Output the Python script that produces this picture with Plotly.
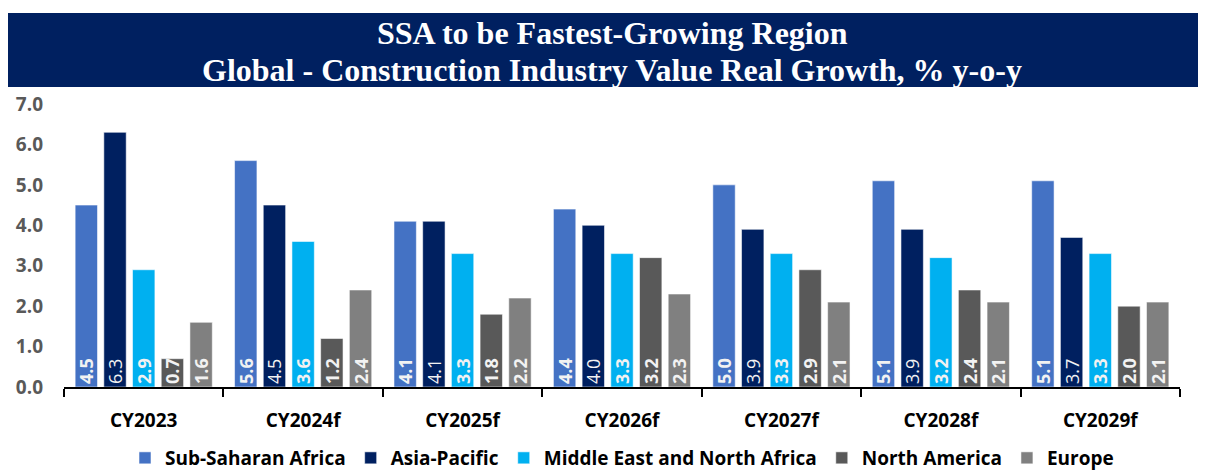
import plotly.graph_objects as go

categories = ["CY2023", "CY2024f", "CY2025f", "CY2026f", "CY2027f", "CY2028f", "CY2029f"]
series_names = ["Sub-Saharan Africa", "Asia-Pacific", "Middle East and North Africa", "North America", "Europe"]
ssa = [4.5, 5.6, 4.1, 4.4, 5.0, 5.1, 5.1]
apac = [6.3, 4.5, 4.1, 4.0, 3.9, 3.9, 3.7]
mena = [2.9, 3.6, 3.3, 3.3, 3.3, 3.2, 3.3]
north_america = [0.7, 1.2, 1.8, 3.2, 2.9, 2.4, 2.0]
europe = [1.6, 2.4, 2.2, 2.3, 2.1, 2.1, 2.1]
y_ticks = [0, 1, 2, 3, 4, 5, 6, 7]
title_lines = ["SSA to be Fastest-Growing Region", "Global - Construction Industry Value Real Growth, % y-o-y"]

colors = ["#4472C4", "#002060", "#00B0F0", "#595959", "#808080"]
label_weights = ["bold", "normal", "bold", "bold", "bold"]
all_series = [ssa, apac, mena, north_america, europe]

# page body has an 8px margin, so figure pixel = screen pixel - 8
OFF = 8
W, H = 1206 - OFF, 470 - OFF
ML, MR, MT, MB = 64 - OFF, 1206 - 1180, 104 - OFF, 470 - 387
pw = W - ML - MR
ph = H - MT - MB
base = H - MB


def py(screen_y):
    return (base - (screen_y - OFF)) / ph


def px(screen_x):
    return ((screen_x - OFF) - ML) / pw


fig = go.Figure()
for name, vals, col, wt in zip(series_names, all_series, colors, label_weights):
    fig.add_trace(go.Bar(
        name=name, x=categories, y=vals,
        marker=dict(color=col, line=dict(color="rgba(255,255,255,0.55)", width=1)),
        text=[f"{v:.1f}" for v in vals],
        textposition="inside", insidetextanchor="start", textangle=-90,
        constraintext="none",
        textfont=dict(color="#F2F2F2", size=18, family="Open Sans", weight=wt),
        cliponaxis=False,
    ))

# title banner
fig.add_shape(type="rect", xref="paper", yref="paper",
              x0=px(0), x1=px(1210),
              y0=py(87), y1=py(13),
              fillcolor="#002060", line=dict(width=0), layer="below")
fig.add_annotation(xref="paper", yref="paper", x=px(612), y=py(33),
                   text=title_lines[0], showarrow=False, yanchor="middle",
                   font=dict(family="Liberation Serif", size=32, color="white", weight="bold"))
fig.add_annotation(xref="paper", yref="paper", x=px(612), y=py(70),
                   text=title_lines[1], showarrow=False, yanchor="middle",
                   font=dict(family="Liberation Serif", size=32, color="white", weight="bold"))

fig.update_layout(
    width=W, height=H,
    margin=dict(l=ML, r=MR, t=MT, b=MB, autoexpand=False),
    paper_bgcolor="white", plot_bgcolor="white",
    barmode="group", bargap=0.1, bargroupgap=0.22,
    uniformtext=dict(minsize=18, mode="show"),
    showlegend=True,
    legend=dict(orientation="h", x=0.5, xanchor="center", y=py(458), yanchor="middle",
                font=dict(family="Open Sans", size=19, color="#000000", weight="bold"),
                itemwidth=30, tracegroupgap=0),
    xaxis=dict(showline=True, linecolor="#000000", linewidth=1.5, ticks="outside", tickson="boundaries",
               ticklen=8, tickcolor="#000000", tickwidth=1.5, showgrid=False, ticklabelstandoff=15,
               tickfont=dict(family="Open Sans", size=19, color="#000000", weight="bold")),
    yaxis=dict(range=[0, 7], tickvals=y_ticks, tickformat=".1f", showgrid=False, zeroline=False,
               showline=False, ticks="", ticklabelstandoff=20,
               tickfont=dict(family="Open Sans", size=19, color="#595959", weight="bold")),
)

fig.write_html("out.html")
